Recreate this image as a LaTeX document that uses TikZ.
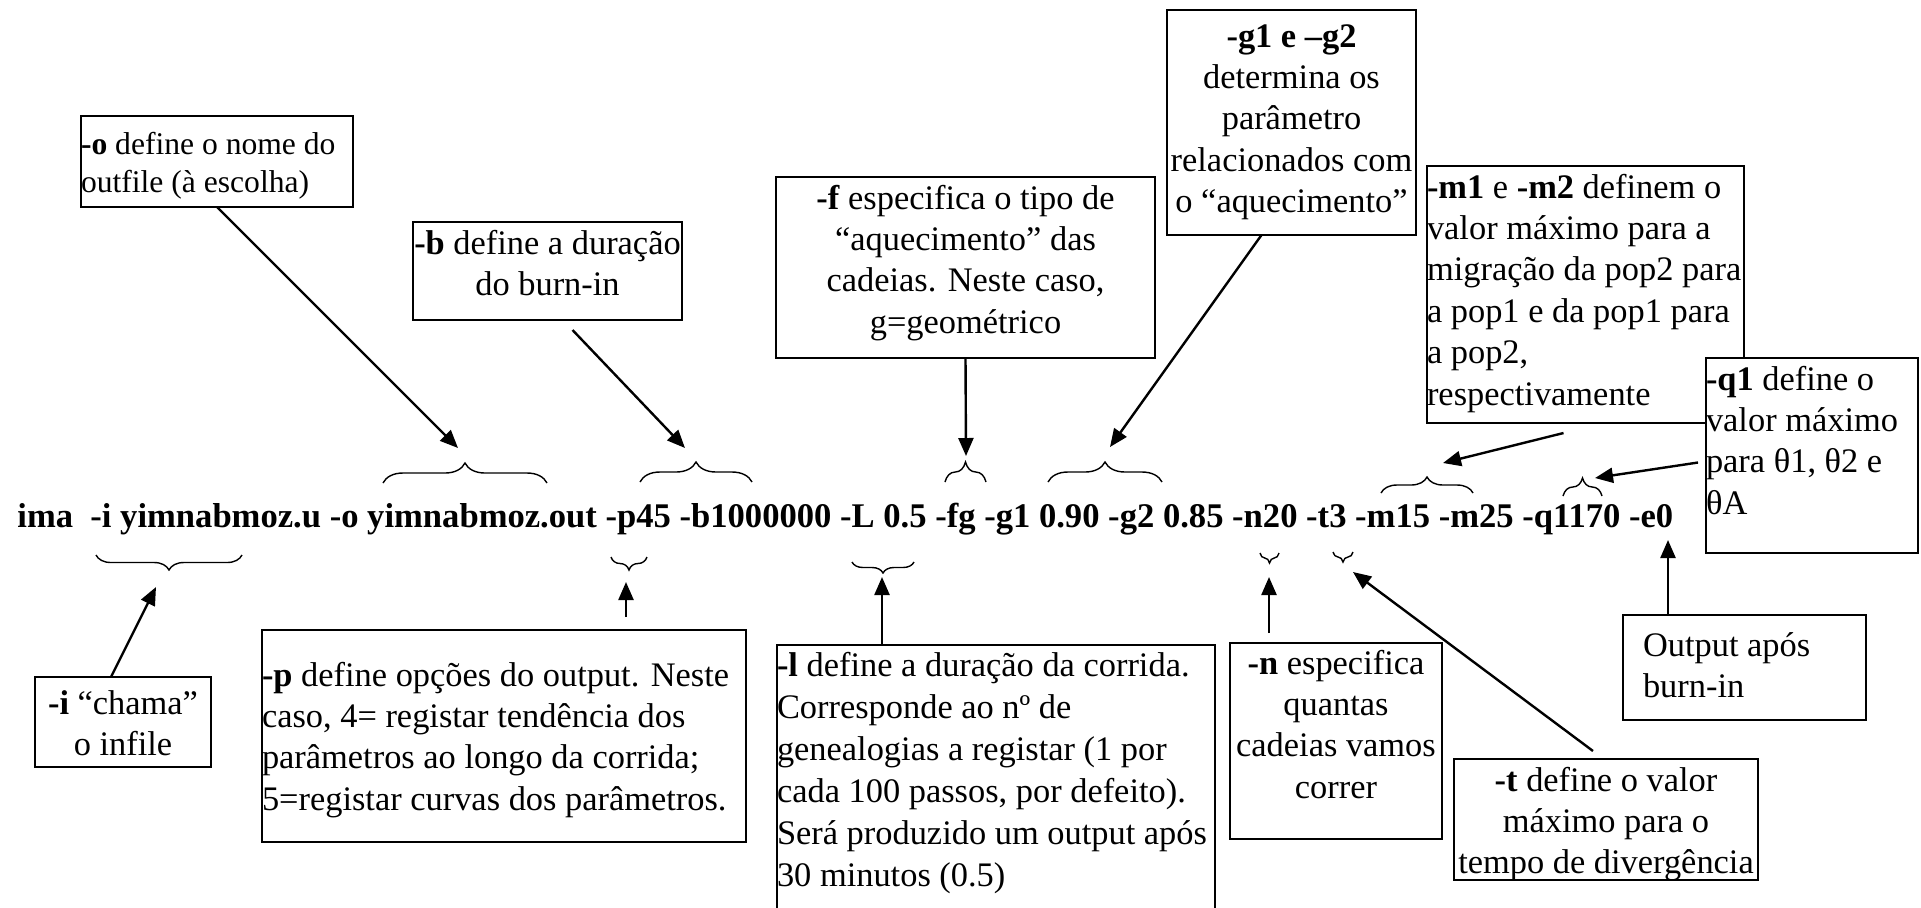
\documentclass[tikz,border=0pt]{standalone}
\usepackage{fontspec}
\setmainfont{Liberation Serif}
\usetikzlibrary{arrows.meta,decorations.pathreplacing,calc}
% #1 width px, #2 height px, #3 first baseline offset px, #4 alignment, #5 text
\newcommand\bx[5]{\parbox[t][\dimexpr#2pt/2\relax][t]{\dimexpr#1pt/2\relax}{#4\rule{0pt}{\dimexpr#3pt/2\relax}#5}}
\newcommand\myl[1]{\mbox{#1}}
\begin{document}
\begin{tikzpicture}[x=0.5pt,y=-0.5pt,
  note/.style={draw, line width=1pt, fill=white, inner sep=0pt, outer sep=0pt,
    anchor=north west, font=\fontsize{17.2}{20.7}\selectfont},
  arr/.style={line width=1.2pt, -{Triangle[length=9pt,width=7.5pt]}},
  br/.style={line width=0.7pt, decorate, decoration={brace, amplitude=#1}},
]
\clip (0,0) rectangle (1921,907);
\fill[white] (0,0) rectangle (1921,907);

% command line
\node[anchor=base west, inner sep=0pt, font=\fontsize{17.3}{20}\selectfont\bfseries] (cmd) at (17,527)
  {ima\ \ -i yimnabmoz.u -o yimnabmoz.out -p45 -b1000000 -L 0.5 -fg -g1 0.90 -g2 0.85 -n20 -t3 -m15 -m25 -q1170 -e0};

% boxes
\node[note, font=\fontsize{15.8}{19}\selectfont] (obox) at (81,116)
  {\bx{272}{91}{38}{\raggedright}{\myl{\textbf{-o} define o nome do}\\\myl{outfile (à escolha)}}};
\node[note] (bbox) at (413,222)
  {\bx{269}{98}{32}{\centering}{\myl{\textbf{-b} define a duração}\\\myl{do burn-in}}};
\node[note] (fbox) at (776,177)
  {\bx{379}{181}{32}{\centering}{\myl{\textbf{-f} especifica o tipo de}\\\myl{“aquecimento” das}\\\myl{cadeias. Neste caso,}\\\myl{g=geométrico}}};
\node[note] (gbox) at (1167,10)
  {\bx{249}{225}{37}{\centering}{\myl{\textbf{-g1 e –g2}}\\\myl{determina os}\\\myl{parâmetro}\\\myl{relacionados com}\\\myl{o “aquecimento”}}};
\node[note] (mbox) at (1427,166)
  {\bx{317}{257}{32}{\raggedright}{\myl{\textbf{-m1} e \textbf{-m2} definem o}\\\myl{valor máximo para a}\\\myl{migração da pop2 para}\\\myl{a pop1 e da pop1 para}\\\myl{a pop2,}\\\myl{respectivamente}}};
\node[note] (qbox) at (1706,358)
  {\bx{212}{195}{32}{\raggedright}{\myl{\textbf{-q1} define o}\\\myl{valor máximo}\\\myl{para θ1, θ2 e}\\\myl{θA}}};
\node[note] (ibox) at (35,677)
  {\bx{176}{90}{37}{\centering}{\myl{\textbf{-i} “chama”}\\\myl{o infile}}};
\node[note] (pbox) at (262,630)
  {\bx{484}{212}{56}{\raggedright}{\myl{\textbf{-p} define opções do output. Neste}\\\myl{caso, 4= registar tendência dos}\\\myl{parâmetros ao longo da corrida;}\\\myl{5=registar curvas dos parâmetros.}}};
\node[note, font=\fontsize{17.2}{21}\selectfont] (lbox) at (777,645)
  {\bx{438}{320}{31}{\raggedright}{\myl{\textbf{-l} define a duração da corrida.}\\\myl{Corresponde ao nº de}\\\myl{genealogias a registar (1 por}\\\myl{cada 100 passos, por defeito).}\\\myl{Será produzido um output após}\\\myl{30 minutos (0.5)}}};
\node[note] (nbox) at (1230,643)
  {\bx{212}{196}{31}{\centering}{\myl{\textbf{-n} especifica}\\\myl{quantas}\\\myl{cadeias vamos}\\\myl{correr}}};
\node[note] (tbox) at (1454,759)
  {\bx{304}{121}{32}{\centering}{\myl{\textbf{-t} define o valor}\\\myl{máximo para o}\\\myl{tempo de divergência}}};
\node[note] (outbox) at (1623,615)
  {\bx{243}{105}{41}{\raggedright\leftskip=10pt}{\myl{Output após}\\\myl{burn-in}}};

% braces above (tip up)
\coordinate (o1) at (383,483); \coordinate (o2) at (547,483);
\coordinate (b1) at (640,482); \coordinate (b2) at (752,482);
\coordinate (f1) at (945,482); \coordinate (f2) at (986,482);
\coordinate (g1) at (1048,482); \coordinate (g2) at (1162,482);
\coordinate (m1) at (1381,493); \coordinate (m2) at (1473,493);
\coordinate (q1) at (1563,496); \coordinate (q2) at (1602,496);
\draw[br=10pt] (o1) -- (o2);
\draw[br=10pt] (b1) -- (b2);
\draw[br=10pt] (f1) -- (f2);
\draw[br=10pt] (g1) -- (g2);
\draw[br=8pt] (m1) -- (m2);
\draw[br=9pt] (q1) -- (q2);
% braces below (tip down)
\coordinate (i1) at (96,555); \coordinate (i2) at (242,555);
\coordinate (p1) at (611,557); \coordinate (p2) at (647,557);
\coordinate (l1) at (852,562); \coordinate (l2) at (914,562);
\coordinate (n1) at (1260,553); \coordinate (n2) at (1279,553);
\coordinate (t1) at (1333,552); \coordinate (t2) at (1353,552);
\draw[br=7.5pt] (i2) -- (i1);
\draw[br=6.5pt] (p2) -- (p1);
\draw[br=5.5pt] (l2) -- (l1);
\draw[br=5pt] (n2) -- (n1);
\draw[br=5pt] (t2) -- (t1);

% arrow tips
\coordinate (otip) at (458,448);
\coordinate (btip) at (685,448);
\coordinate (ftip) at (966,456);
\coordinate (gtip) at (1110,447);
\coordinate (mtip) at (1443,463);
\coordinate (qtip) at (1595,478);
\coordinate (itip) at (156,587);
\coordinate (ptip) at (626,582);
\coordinate (ltip) at (882,577);
\coordinate (ntip) at (1269,577);
\coordinate (ttip) at (1353,572);
\coordinate (etip) at (1668,540);

% arrows
\draw[arr] (obox.south) -- (otip);
\draw[arr] ([shift={(25,10)}]bbox.south) -- (btip);
\draw[arr] (fbox.south) -- (ftip);
\draw[arr] ([shift={(-30,0)}]gbox.south) -- (gtip);
\draw[arr] ([shift={(-22,10)}]mbox.south) -- (mtip);
\draw[arr] ([shift={(-8,7)}]qbox.west) -- (qtip);
\draw[arr] ([shift={(-12,0)}]ibox.north) -- (itip);
\draw[arr] ([shift={(-120,-13)}]pbox.north east) -- (ptip);
\draw[arr] ([shift={(105,0)}]lbox.north west) -- (ltip);
\draw[arr] ([shift={(39,-10)}]nbox.north west) -- (ntip);
\draw[arr] ([shift={(-13,-8)}]tbox.north) -- (ttip);
\draw[arr] ([shift={(45,0)}]outbox.north west) -- (etip);
\end{tikzpicture}
\end{document}
